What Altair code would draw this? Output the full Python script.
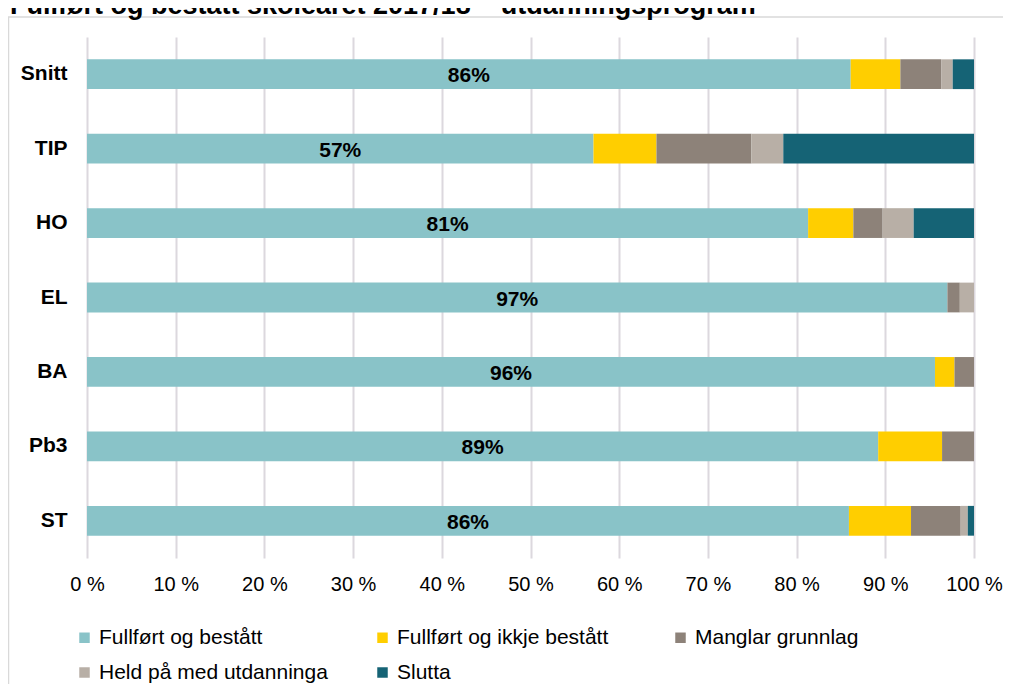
import altair as alt
import pandas as pd

categories = ["Snitt", "TIP", "HO", "EL", "BA", "Pb3", "ST"]
series = ["Fullført og bestått", "Fullført og ikkje bestått", "Manglar grunnlag",
          "Held på med utdanninga", "Slutta"]
fullfort_bestatt = [86.1, 57.1, 81.3, 97.0, 95.6, 89.2, 85.9]
fullfort_ikkje = [5.6, 7.1, 5.1, 0.0, 2.2, 7.2, 7.0]
manglar = [4.6, 10.7, 3.3, 1.4, 2.2, 3.6, 5.6]
held_pa = [1.3, 3.6, 3.5, 1.6, 0.0, 0.0, 0.8]
slutta = [2.4, 21.5, 6.8, 0.0, 0.0, 0.0, 0.7]
colors = ["#89C3C8", "#FFCE00", "#8D8279", "#B8AFA6", "#156375"]
x_ticks = list(range(0, 101, 10))
title_text = "Fullført og bestått skoleåret 2017/18 – utdanningsprogram"

values = [fullfort_bestatt, fullfort_ikkje, manglar, held_pa, slutta]
rows = []
for si, (s, vals) in enumerate(zip(series, values)):
    for c, v in zip(categories, vals):
        rows.append({"cat": c, "series": s, "value": v, "order": si})
df = pd.DataFrame(rows)

lab = pd.DataFrame({
    "cat": categories,
    "pos": [v / 2 for v in fullfort_bestatt],
    "label": [f"{round(v)}%" for v in fullfort_bestatt],
})

FONT = "Liberation Sans"

y_enc = alt.Y(
    "cat:N", sort=categories, title=None,
    scale=alt.Scale(paddingInner=0.6, paddingOuter=0.3),
    axis=alt.Axis(ticks=False, domain=False, grid=False, labelFontWeight="bold",
                  labelFontSize=21, labelColor="#000000", labelPadding=20, labelFont=FONT),
)

bars = alt.Chart(df).mark_bar().encode(
    y=y_enc,
    x=alt.X("value:Q", stack="zero", title=None,
            scale=alt.Scale(domain=[0, 100], nice=False),
            axis=alt.Axis(values=x_ticks, labelExpr="datum.value + ' %'", ticks=False,
                          domain=False, grid=True, gridColor="#DCD8DE", gridWidth=2,
                          labelFontSize=20, labelColor="#000000", labelPadding=16,
                          labelFlush=False, labelFont=FONT)),
    color=alt.Color("series:N", scale=alt.Scale(domain=series, range=colors),
                    legend=alt.Legend(orient="none", legendX=-13, legendY=590,
                                      direction="horizontal", columns=3, title=None,
                                      symbolType="square", symbolSize=110,
                                      symbolStrokeWidth=0, labelFontSize=21,
                                      labelFont=FONT, labelColor="#000000",
                                      columnPadding=44, rowPadding=13, gridAlign="all",
                                      labelOffset=4, labelLimit=400)),
    order=alt.Order("order:Q"),
)

labels = alt.Chart(lab).mark_text(font=FONT, fontSize=21, fontWeight="bold",
                                  color="#000000", baseline="middle", dy=2).encode(
    y=alt.Y("cat:N", sort=categories),
    x=alt.X("pos:Q"),
    text="label:N",
)

title = alt.Chart(pd.DataFrame({"t": [title_text]})).mark_text(
    font=FONT, fontSize=27, fontWeight="bold", color="#000000",
    align="left", baseline="alphabetic").encode(
    x=alt.value(-77), y=alt.value(-23), text="t:N")

frame = alt.Chart(pd.DataFrame({"a": [0]})).mark_rect(
    fill=None, stroke="#D9D9D9", strokeWidth=1.5).encode(
    x=alt.value(-78.5), x2=alt.value(2000), y=alt.value(-20), y2=alt.value(2000))

chart = alt.layer(frame, bars, labels, title).properties(
    width=887, height=521,
    padding={"left": 79, "top": 29, "right": 29, "bottom": 126},
    autosize=alt.AutoSizeParams(type="none"),
).configure_view(stroke=None)

chart.save("out.html", embed_options={"renderer": "svg", "actions": False})
